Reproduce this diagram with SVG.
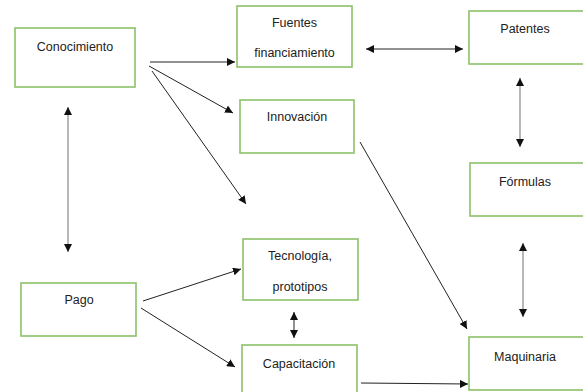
<svg xmlns="http://www.w3.org/2000/svg" width="583" height="392" viewBox="0 0 583 392">
<style>
.box{fill:#fff;stroke:#8cc168;stroke-width:1.6}
.t{font-family:"Liberation Sans",Arial,sans-serif;font-size:12.5px;fill:#222;text-anchor:middle}
.c{stroke:#222;stroke-width:1;fill:none}
.g{stroke:#888;stroke-width:1.2;fill:none}
</style>
<defs>
<marker id="ah" viewBox="0 0 10 10" refX="10" refY="5" markerWidth="8" markerHeight="8" markerUnits="userSpaceOnUse" orient="auto-start-reverse">
<path d="M0,0 L10,5 L0,10 z" fill="#111"/>
</marker>
</defs>
<rect width="583" height="392" fill="#fff"/>
<g id="connectors">
<line class="c" x1="150" y1="62" x2="235" y2="62" marker-end="url(#ah)"/>
<line class="c" x1="149" y1="66" x2="233" y2="113" marker-end="url(#ah)"/>
<line class="c" x1="152" y1="71" x2="246" y2="204" marker-end="url(#ah)"/>
<line class="g" x1="68" y1="107" x2="68" y2="252" marker-start="url(#ah)" marker-end="url(#ah)"/>
<line class="c" x1="366" y1="49" x2="463" y2="49" marker-start="url(#ah)" marker-end="url(#ah)"/>
<line class="g" x1="520" y1="78" x2="520" y2="147" marker-start="url(#ah)" marker-end="url(#ah)"/>
<line class="g" x1="523" y1="243" x2="523" y2="317" marker-start="url(#ah)" marker-end="url(#ah)"/>
<line class="c" x1="360" y1="142" x2="467" y2="329" marker-end="url(#ah)"/>
<line class="c" x1="143" y1="301" x2="241" y2="269" marker-end="url(#ah)"/>
<line class="c" x1="141" y1="308" x2="235" y2="367" marker-end="url(#ah)"/>
<line class="c" x1="294" y1="312" x2="294" y2="338" marker-start="url(#ah)" marker-end="url(#ah)"/>
<line class="c" x1="361" y1="383" x2="468" y2="384" marker-end="url(#ah)"/>
</g>
<g id="conocimiento"><rect class="box" x="15" y="28" width="120" height="59"/><text class="t" x="75" y="51">Conocimiento</text></g>
<g id="fuentes"><rect class="box" x="237" y="6" width="115" height="61"/><text class="t" x="294.5" y="27">Fuentes</text><text class="t" x="294.5" y="57">financiamiento</text></g>
<g id="innovacion"><rect class="box" x="240" y="100" width="114" height="53"/><text class="t" x="297" y="121">Innovación</text></g>
<g id="patentes"><rect class="box" x="469" y="11" width="115" height="53"/><text class="t" x="525" y="33">Patentes</text></g>
<g id="formulas"><rect class="box" x="470" y="163" width="114" height="53"/><text class="t" x="525" y="186">Fórmulas</text></g>
<g id="tecnologia"><rect class="box" x="243" y="239" width="115" height="61"/><text class="t" x="300" y="260">Tecnología,</text><text class="t" x="300" y="291">prototipos</text></g>
<g id="pago"><rect class="box" x="21" y="283" width="115" height="53"/><text class="t" x="79" y="304">Pago</text></g>
<g id="capacitacion"><rect class="box" x="242" y="345" width="115" height="52"/><text class="t" x="299" y="368">Capacitación</text></g>
<g id="maquinaria"><rect class="box" x="469" y="337" width="115" height="53"/><text class="t" x="525" y="361">Maquinaria</text></g>
</svg>
